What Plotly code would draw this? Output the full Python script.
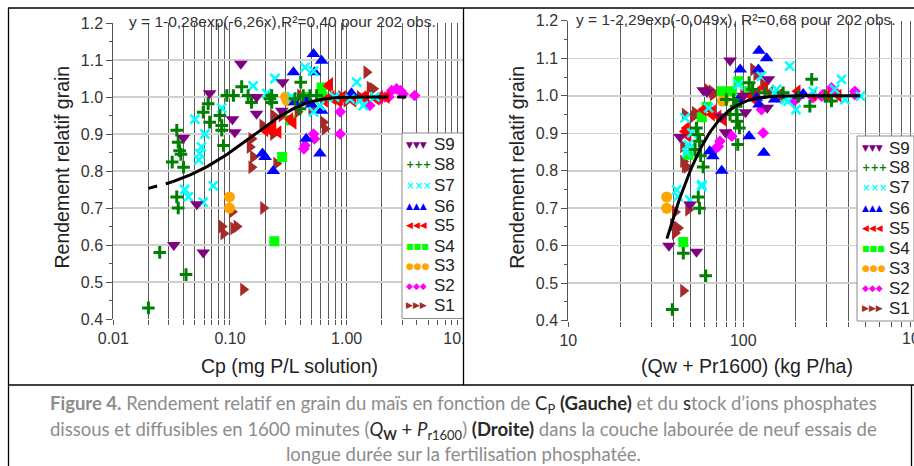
import numpy as np
import plotly.graph_objects as go

W, H = 914, 466

# ---------------- DATA : left panel, Cp (mg P/L solution) ----------------
L_S9_x = [0.124, 0.067, 0.040, 0.169, 0.169, 0.105, 0.110, 0.283, 0.278, 0.033, 0.052, 0.059]
L_S9_y = [1.090, 1.010, 0.890, 1.000, 0.955, 0.940, 0.905, 1.040, 0.963, 0.600, 0.710, 0.580]

L_S8_x = [0.020, 0.025, 0.042, 0.035, 0.036, 0.035, 0.036, 0.037, 0.032, 0.040, 0.038, 0.059, 0.065,
          0.067, 0.082, 0.085, 0.085, 0.088, 0.094, 0.107, 0.126, 0.143, 0.153, 0.228, 0.228, 0.220,
          0.404, 0.361, 0.425, 0.485, 0.553, 0.398]
L_S8_y = [0.430, 0.580, 0.520, 0.730, 0.700, 0.910, 0.878, 0.855, 0.824, 0.810, 0.845, 0.959, 0.982,
          0.932, 0.950, 0.923, 0.910, 0.869, 1.004, 1.004, 1.028, 1.004, 0.985, 1.004, 0.985, 0.995,
          1.040, 0.995, 1.004, 1.004, 1.004, 0.968]

L_S7_x = [0.041, 0.044, 0.059, 0.072, 0.050, 0.061, 0.057, 0.055, 0.054, 0.085, 0.158, 0.243, 0.206,
          0.440, 0.520, 0.338, 0.520, 0.590, 0.790, 1.220, 1.070, 1.390, 1.750, 1.300]
L_S7_y = [0.750, 0.730, 0.716, 0.760, 0.940, 0.900, 0.865, 0.847, 0.830, 0.970, 1.030, 1.050, 1.010,
          1.080, 1.070, 1.000, 0.960, 0.977, 1.000, 1.040, 0.995, 0.977, 1.000, 0.990]

L_S6_x = [0.35, 0.52, 0.61, 0.53, 0.36, 0.61, 0.45, 0.59, 0.19, 0.20, 0.235, 1.10, 0.45, 0.50]
L_S6_y = [1.067, 1.116, 1.098, 1.067, 0.986, 0.963, 0.887, 0.847, 0.847, 0.838, 0.800, 1.010, 0.990, 0.980]

L_S5_x = [0.20, 0.22, 0.235, 0.26, 0.327, 0.35, 0.70, 0.72, 0.65, 0.74, 0.77, 0.85, 0.88, 0.93,
          1.14, 1.39, 1.47, 1.80, 1.93, 2.20]
L_S5_y = [0.910, 0.910, 0.920, 0.905, 0.940, 0.930, 1.030, 1.035, 0.990, 1.000, 0.995, 0.990, 0.995,
          1.000, 0.990, 1.000, 1.000, 0.995, 1.000, 1.000]

L_S4_x = [0.28, 0.33, 0.61, 0.24, 0.45, 0.62]
L_S4_y = [0.838, 0.937, 1.026, 0.610, 1.000, 1.000]

L_S3_x = [0.099, 0.099, 0.31, 0.30, 0.32]
L_S3_y = [0.730, 0.700, 0.990, 1.000, 0.995]

L_S2_x = [0.88, 0.88, 0.52, 0.53, 0.44, 0.43, 1.58, 1.93, 2.13, 2.30, 2.43, 2.68, 2.90, 3.05, 3.83]
L_S2_y = [0.960, 0.900, 0.900, 0.887, 0.869, 0.860, 0.977, 0.995, 1.000, 1.000, 1.017, 1.022, 1.017,
          1.008, 1.004]

L_S1_x = [0.153, 0.148, 0.153, 0.158, 0.190, 0.235, 0.278, 0.250, 0.235, 0.380, 0.400, 0.630, 0.650,
          1.480, 1.580, 1.690, 1.300, 0.085, 0.088, 0.107, 0.114, 0.104, 0.193, 0.130, 0.500, 0.900, 1.000]
L_S1_y = [0.887, 0.865, 0.810, 0.838, 0.923, 0.950, 0.950, 0.820, 0.900, 0.960, 1.004, 0.932, 0.914,
          1.067, 1.026, 1.022, 1.000, 0.650, 0.631, 0.645, 0.650, 0.690, 0.700, 0.480, 0.970, 1.000, 0.990]

# ---------------- DATA : right panel, Qw + Pr1600 (kg P/ha) ----------------
R_S9_x = [37.6, 49.6, 54.0, 43.5, 59.0, 84.0, 79.0, 103.0, 139.0, 137.0, 75.0, 100.0, 62.0]
R_S9_y = [0.600, 0.710, 0.584, 0.890, 1.015, 1.094, 0.903, 0.956, 1.044, 0.968, 0.945, 1.000, 1.010]

R_S8_x = [39.3, 45.4, 61.0, 55.3, 56.2, 54.0, 55.0, 56.2, 53.0, 57.0, 59.0, 80.0, 91.0, 92.0, 92.0,
          95.0, 93.0, 108.0, 113.0, 133.0, 169.0, 206.0, 246.0, 240.0, 294.0, 319.0, 84.0, 88.0]
R_S8_y = [0.430, 0.580, 0.520, 0.730, 0.700, 0.914, 0.897, 0.879, 0.857, 0.840, 0.810, 0.990, 0.972,
          0.950, 0.932, 0.914, 0.870, 1.035, 1.017, 1.008, 1.008, 0.999, 1.044, 0.972, 0.999, 0.986,
          0.950, 0.990]

R_S7_x = [41.6, 42.4, 57.9, 49.5, 46.4, 50.8, 48.5, 47.5, 49.5, 63.3, 93.8, 127.0, 184.0, 151.0, 180.0,
          200.0, 251.0, 333.0, 364.0, 381.0, 467.0, 57.9, 155.0, 173.0]
R_S7_y = [0.749, 0.731, 0.758, 0.722, 0.941, 0.901, 0.870, 0.848, 0.860, 0.968, 1.030, 1.052, 1.079,
          1.008, 0.986, 0.963, 1.012, 1.017, 1.044, 0.990, 0.999, 0.763, 1.017, 0.990]

R_S6_x = [123.0, 136.0, 96.0, 122.0, 94.0, 151.0, 123.0, 108.0, 131.0, 64.3, 67.0, 75.3, 119.0, 205.0, 220.0]
R_S6_y = [1.120, 1.100, 1.070, 1.070, 0.990, 0.990, 0.977, 0.892, 0.848, 0.852, 0.839, 0.800, 0.995,
          1.000, 1.005]

R_S5_x = [47.5, 46.4, 48.5, 66.0, 72.0, 77.0, 67.0, 59.0, 116.0, 133.0, 142.0, 161.0, 204.0, 251.0,
          110.0, 120.0, 300.0, 350.0]
R_S5_y = [0.914, 0.905, 0.892, 0.950, 0.945, 0.936, 0.959, 0.963, 0.990, 1.021, 1.008, 1.003, 1.012,
          1.003, 1.000, 1.010, 1.000, 1.000]

R_S4_x = [45.4, 48.5, 57.9, 61.8, 75.3, 86.0, 93.8, 108.0]
R_S4_y = [0.610, 0.843, 0.943, 0.971, 1.012, 1.012, 1.039, 1.012]

R_S3_x = [36.5, 36.5, 76.0, 78.0]
R_S3_y = [0.730, 0.700, 0.986, 0.990]

R_S2_x = [73.5, 72.0, 70.0, 86.0, 84.0, 130.0, 127.0, 194.0, 200.0, 280.0, 285.0, 319.0, 333.0, 434.0,
          434.0, 250.0]
R_S2_y = [0.879, 0.865, 0.861, 0.892, 0.897, 0.901, 0.963, 0.986, 0.990, 0.999, 1.003, 1.021, 1.012,
          1.003, 1.012, 0.995]

R_S1_x = [46.4, 45.4, 46.4, 53.0, 62.0, 66.0, 114.0, 119.0, 51.8, 47.5, 45.4, 40.7, 48.5, 39.8, 42.4,
          40.7, 45.4, 67.0, 100.0, 130.0, 160.0, 300.0]
R_S1_y = [0.950, 0.865, 0.812, 0.955, 1.017, 1.012, 1.070, 1.057, 0.945, 0.810, 0.825, 0.690, 0.696,
          0.656, 0.647, 0.634, 0.480, 1.003, 1.000, 1.030, 1.000, 1.000]

# fitted models printed on the chart
L_fit = dict(a=0.28, b=6.26, x_start=0.02, x_solid0=0.032, x_solid1=1.9, x_end=3.5)
R_fit = dict(a=2.29, b=0.049, x_start=36.6, x_end=466.0)
L_eq = "y = 1-0,28exp(-6,26x),R²=0,40 pour 202 obs."
R_eq = "y = 1-2,29exp(-0,049x), R²=0,68 pour 202 obs."

series_names = ["S9", "S8", "S7", "S6", "S5", "S4", "S3", "S2", "S1"]
left_data = {"S9": (L_S9_x, L_S9_y), "S8": (L_S8_x, L_S8_y), "S7": (L_S7_x, L_S7_y),
             "S6": (L_S6_x, L_S6_y), "S5": (L_S5_x, L_S5_y), "S4": (L_S4_x, L_S4_y),
             "S3": (L_S3_x, L_S3_y), "S2": (L_S2_x, L_S2_y), "S1": (L_S1_x, L_S1_y)}
right_data = {"S9": (R_S9_x, R_S9_y), "S8": (R_S8_x, R_S8_y), "S7": (R_S7_x, R_S7_y),
              "S6": (R_S6_x, R_S6_y), "S5": (R_S5_x, R_S5_y), "S4": (R_S4_x, R_S4_y),
              "S3": (R_S3_x, R_S3_y), "S2": (R_S2_x, R_S2_y), "S1": (R_S1_x, R_S1_y)}

# ---------------- STYLES ----------------
styles = {
    "S9": dict(symbol="triangle-down", color="#800080", size=12, glyph="▼▼▼", gs=9),
    "S8": dict(symbol="cross-thin", color="#008000", size=9, glyph="+++", lw=3, gs=10, bold=True),
    "S7": dict(symbol="x-thin", color="#00ffff", size=9, glyph="×××", lw=2.5, gs=10, bold=True),
    "S6": dict(symbol="triangle-up", color="#0000ff", size=12, glyph="▲▲▲", gs=9),
    "S5": dict(symbol="triangle-left", color="#ff0000", size=12, glyph="◀◀◀", gs=9),
    "S4": dict(symbol="square", color="#00ff00", size=10, glyph="■■■", gs=8),
    "S3": dict(symbol="circle", color="#ffa500", size=11, glyph="●●●", gs=9),
    "S2": dict(symbol="diamond", color="#ff00ff", size=9, glyph="◆◆◆", gs=9),
    "S1": dict(symbol="triangle-right", color="#a52a2a", size=12, glyph="▶▶▶", gs=9),
}

FONT = "Liberation Sans"
TXT = "#333333"


def px(x):
    return x / W


def py(y):
    return 1 - y / H


fig = go.Figure()

for panel, data, xa, ya in (("L", left_data, "x", "y"), ("R", right_data, "x2", "y2")):
    for name in reversed(series_names):
        st = styles[name]
        xs, ys = data[name]
        if "thin" in st["symbol"]:
            marker = dict(symbol=st["symbol"], size=st["size"], color=st["color"],
                          line=dict(color=st["color"], width=st["lw"]))
        else:
            marker = dict(symbol=st["symbol"], size=st["size"], color=st["color"],
                          line=dict(width=0))
        fig.add_trace(go.Scatter(x=xs, y=ys, mode="markers", marker=marker, name=name,
                                 xaxis=xa, yaxis=ya, showlegend=False, hoverinfo="skip"))


def model(x, a, b):
    return 1 - a * np.exp(-b * x)


seg_dash1 = np.geomspace(L_fit["x_start"], L_fit["x_solid0"], 20)
seg_solid = np.geomspace(L_fit["x_solid0"], L_fit["x_solid1"], 120)
seg_dash2 = np.geomspace(L_fit["x_solid1"], L_fit["x_end"], 20)
for seg, dash in ((seg_dash1, "dash"), (seg_solid, "solid"), (seg_dash2, "dash")):
    fig.add_trace(go.Scatter(x=seg, y=model(seg, L_fit["a"], L_fit["b"]), mode="lines",
                             line=dict(color="black", width=3, dash=dash), showlegend=False,
                             xaxis="x", yaxis="y", hoverinfo="skip"))
segR = np.geomspace(R_fit["x_start"], R_fit["x_end"], 150)
fig.add_trace(go.Scatter(x=segR, y=model(segR, R_fit["a"], R_fit["b"]), mode="lines",
                         line=dict(color="black", width=3), showlegend=False,
                         xaxis="x2", yaxis="y2", hoverinfo="skip"))


def log_ticks(d0, d1):
    vals = []
    for d in range(d0, d1):
        for m in range(1, 10):
            vals.append(round(m * 10.0 ** d, 6))
    vals.append(10.0 ** d1)
    return vals


L_ticks = log_ticks(-2, 1)
L_lab = {0.01: "0.01", 0.1: "0.10", 1.0: "1.00", 10.0: "10.00"}
L_text = [L_lab.get(v, " ") for v in L_ticks]
R_ticks = log_ticks(1, 3)[:-1]
R_lab = {10.0: "10", 100.0: "100"}
R_text = [R_lab.get(v, " ") for v in R_ticks]

xcommon = dict(type="log", showgrid=True, gridcolor="#5a5a5a", gridwidth=1, ticks="outside",
               ticklen=5, tickcolor="#555555", showline=False, zeroline=False, automargin=False,
               tickangle=0, tickfont=dict(family=FONT, size=16, color=TXT))
ycommon = dict(range=[0.4, 1.2], dtick=0.1, tick0=0.4, tickformat=".1f", showgrid=True,
               gridcolor="#cfcfcf", gridwidth=1.5, ticks="outside", ticklen=6, tickcolor="#555555",
               showline=True, linecolor="#555555", linewidth=1, zeroline=False, automargin=False,
               minor=dict(dtick=0.05, ticks="outside", ticklen=3, tickcolor="#555555", showgrid=False),
               tickfont=dict(family=FONT, size=16, color=TXT))

L_x0, L_x1 = 113.3, 463.3
R_x0 = 568.3
R_dec = 175.0
R_top = 1 + (W - R_x0) / R_dec

fig.update_layout(
    width=W, height=H, margin=dict(l=0, r=0, t=0, b=0, pad=0, autoexpand=False),
    autosize=False, showlegend=False,
    paper_bgcolor="white", plot_bgcolor="white",
    xaxis=dict(domain=[px(L_x0), px(L_x1)], range=[-2, 1], tickvals=L_ticks, ticktext=L_text,
               anchor="y", **xcommon),
    yaxis=dict(domain=[py(319), py(23)], anchor="x", **ycommon),
    xaxis2=dict(domain=[px(R_x0), 1.0], range=[1, R_top], tickvals=R_ticks, ticktext=R_text,
                anchor="y2", **xcommon),
    yaxis2=dict(domain=[py(320.7), py(20.8)], anchor="x2", **ycommon),
)

ann = []
shapes = []

# equation texts
ann.append(dict(text=L_eq, x=px(282), y=py(21), xref="paper", yref="paper", showarrow=False,
                font=dict(family=FONT, size=15.5, color=TXT), xanchor="center", yanchor="middle"))
ann.append(dict(text=R_eq, x=px(736), y=py(19), xref="paper", yref="paper", showarrow=False,
                font=dict(family=FONT, size=15.5, color=TXT), xanchor="center", yanchor="middle"))

# axis titles
for xc, t in ((289, "Cp (mg P/L solution)"), (746.7, "(Qw + Pr1600) (kg P/ha)")):
    ann.append(dict(text=t, x=px(xc), y=py(366), xref="paper", yref="paper", showarrow=False,
                    font=dict(family=FONT, size=19.5, color="#222222"), xanchor="center",
                    yanchor="middle"))
for xc in (61.5, 516.7):
    ann.append(dict(text="Rendement relatif grain", x=px(xc), y=py(167), xref="paper",
                    yref="paper", showarrow=False, textangle=-90,
                    font=dict(family=FONT, size=19.5, color="#222222"), xanchor="center",
                    yanchor="middle"))

# "1000" tick label lying just beyond the window edge
ann.append(dict(text="1000", x=px(900), y=py(338), xref="paper", yref="paper",
                showarrow=False, font=dict(family=FONT, size=16, color=TXT), xanchor="left",
                yanchor="middle"))


def legend(x0, x1, y0, y1, mx, lx, ys):
    shapes.append(dict(type="rect", xref="paper", yref="paper", x0=px(x0), x1=px(x1),
                       y0=py(y1), y1=py(y0), fillcolor="white",
                       line=dict(color="#8a8a8a", width=1), layer="above"))
    for name, yy in zip(series_names, ys):
        st = styles[name]
        g = st["glyph"]
        if st.get("bold"):
            g = "<b>" + g + "</b>"
        ann.append(dict(text=g, x=px(mx), y=py(yy), xref="paper", yref="paper", showarrow=False,
                        font=dict(family="DejaVu Sans", size=st["gs"], color=st["color"]),
                        xanchor="left", yanchor="middle"))
        ann.append(dict(text=name, x=px(lx), y=py(yy), xref="paper", yref="paper",
                        showarrow=False, font=dict(family=FONT, size=17, color="#222222"),
                        xanchor="left", yanchor="middle"))


legend(402, 463.5, 133, 318.5, 404, 432, [145, 165, 185.5, 206, 225.5, 246, 265.5, 285.5, 305])
legend(857, 914, 136, 321, 860, 887, [148, 168, 188, 208, 228, 248, 268, 288, 308])

# cover the overflow of the left panel beyond its frame
shapes.append(dict(type="rect", xref="paper", yref="paper", x0=px(463.5), x1=px(500),
                   y0=py(384), y1=py(8), fillcolor="white", line=dict(width=0), layer="above"))


def hline(y, x0, x1):
    shapes.append(dict(type="line", xref="paper", yref="paper", x0=px(x0), x1=px(x1),
                       y0=py(y), y1=py(y), line=dict(color="black", width=1.3), layer="above"))


def vline(x, y0, y1):
    shapes.append(dict(type="line", xref="paper", yref="paper", x0=px(x), x1=px(x),
                       y0=py(y0), y1=py(y1), line=dict(color="black", width=1.3), layer="above"))


hline(8, 8, 914)
hline(385, 8, 914)
vline(8.5, 8, 466)
vline(463.5, 8, 385)
vline(911.5, 385, 466)

# caption
CG = "#8c8c8c"
DK = "#2a2a2a"
cap1 = (f"<b>Figure 4.</b> Rendement relatif en grain du maïs en fonction de "
        f"<span style='color:{DK}'>C<sub>P</sub> <b>(Gauche)</b></span> et du "
        f"<span style='color:{DK}'>s</span>tock d’ions phosphates")
cap2 = (f"dissous et diffusibles en 1600 minutes (<span style='color:{DK}'><i>Q</i><sub><b>W</b></sub>"
        f" + <i>P</i><sub>r1600</sub></span>) <span style='color:{DK}'><b>(Droite)</b></span> "
        f"dans la couche labourée de neuf essais de")
cap3 = "longue durée sur la fertilisation phosphatée."
for t, yy in ((cap1, 404), (cap2, 430), (cap3, 454)):
    ann.append(dict(text=t, x=px(463), y=py(yy), xref="paper", yref="paper", showarrow=False,
                    font=dict(family="Lato", size=18.5, color=CG), xanchor="center",
                    yanchor="middle"))

fig.update_layout(annotations=ann, shapes=shapes)
fig.write_html("out.html", config={"displayModeBar": False, "staticPlot": True},
               post_script="document.body.style.margin='0';document.body.style.overflow='hidden';")
